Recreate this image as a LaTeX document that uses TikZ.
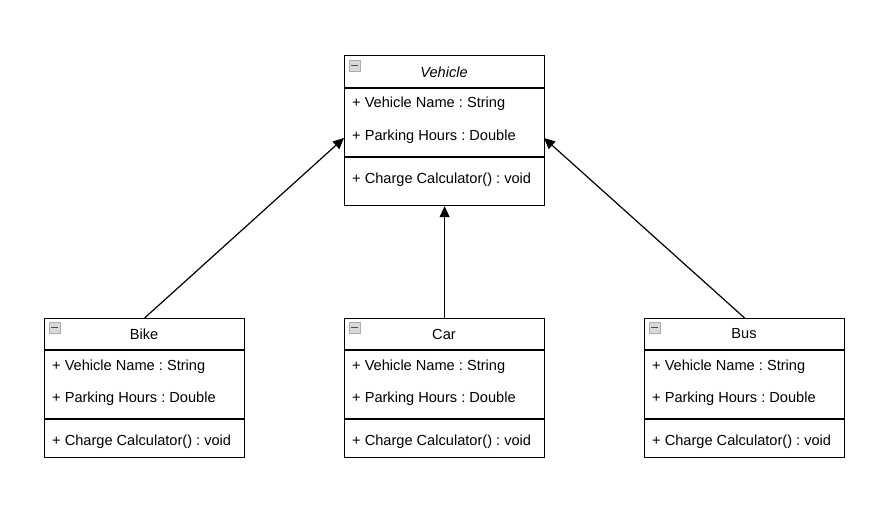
\documentclass[tikz,border=0pt]{standalone}
\usepackage{fontspec}
\setmainfont{Liberation Sans}
\usetikzlibrary{arrows.meta,calc}
\frenchspacing
\tikzset{
  classbox/.style={draw, line width=1.2pt, minimum width=200pt, minimum height=#1, inner sep=0pt, anchor=north west, fill=white},
  divider/.style={line width=1.2pt},
  attr/.style={anchor=west, inner sep=0pt, font=\fontsize{14.6}{17}\selectfont},
  ttl/.style={inner sep=0pt, font=\fontsize{14.6}{17}\selectfont},
  minusicon/.style={draw=gray!65, fill=gray!30, line width=0.9pt, minimum size=11pt, inner sep=0pt},
  minusbar/.style={line width=1.8pt, black!70},
  inherit/.style={line width=1.2pt, -{Triangle[length=11pt,width=10pt]}},
}
\begin{document}
\begin{tikzpicture}[x=1pt,y=-1pt]
\useasboundingbox (0,0) rectangle (884,514);
% Vehicle
\node[classbox=150pt] (veh) at (344,55) {};
\draw[divider] (344,88) -- (544,88);
\draw[divider] (344,157) -- (544,157);
\node[minusicon] (vehicon) at (354.5,65.5) {};
\draw[minusbar] ($(vehicon.west)+(2.5,0)$) -- ($(vehicon.east)+(-2.5,0)$);
\node[ttl, font=\fontsize{14.6}{17}\selectfont\itshape] (vehttl) at (444,72) {Vehicle};
\node[attr] (veha1) at (352,104) {+ Vehicle Name : String};
\node[attr] (veha2) at (352,137) {+ Parking Hours : Double};
\node[attr] (vehm1) at (352,180) {+ Charge Calculator() : void};

% Bike
\node[classbox=139pt] (bike) at (44,318) {};
\draw[divider] (44,350) -- (244,350);
\draw[divider] (44,419) -- (244,419);
\node[minusicon] (bikeicon) at (54.5,327.5) {};
\draw[minusbar] ($(bikeicon.west)+(2.5,0)$) -- ($(bikeicon.east)+(-2.5,0)$);
\node[ttl] (bikettl) at (144,334) {Bike};
\node[attr] (bikea1) at (52,367) {+ Vehicle Name : String};
\node[attr] (bikea2) at (52,399) {+ Parking Hours : Double};
\node[attr] (bikem1) at (52,442) {+ Charge Calculator() : void};

% Car
\node[classbox=139pt] (car) at (344,318) {};
\draw[divider] (344,350) -- (544,350);
\draw[divider] (344,419) -- (544,419);
\node[minusicon] (caricon) at (354.5,327.5) {};
\draw[minusbar] ($(caricon.west)+(2.5,0)$) -- ($(caricon.east)+(-2.5,0)$);
\node[ttl] (carttl) at (444,334) {Car};
\node[attr] (cara1) at (352,367) {+ Vehicle Name : String};
\node[attr] (cara2) at (352,399) {+ Parking Hours : Double};
\node[attr] (carm1) at (352,442) {+ Charge Calculator() : void};

% Bus
\node[classbox=139pt] (bus) at (644,318) {};
\draw[divider] (644,350) -- (844,350);
\draw[divider] (644,419) -- (844,419);
\node[minusicon] (busicon) at (654.5,327.5) {};
\draw[minusbar] ($(busicon.west)+(2.5,0)$) -- ($(busicon.east)+(-2.5,0)$);
\node[ttl] (busttl) at (744,334) {Bus};
\node[attr] (busa1) at (652,367) {+ Vehicle Name : String};
\node[attr] (busa2) at (652,399) {+ Parking Hours : Double};
\node[attr] (busm1) at (652,442) {+ Charge Calculator() : void};

% connectors
\coordinate (vehL) at (344,138);
\coordinate (vehR) at (544,138);
\draw[inherit] (bike.north) -- (vehL);
\draw[inherit] (car.north) -- (veh.south);
\draw[inherit] (bus.north) -- (vehR);
\end{tikzpicture}
\end{document}
